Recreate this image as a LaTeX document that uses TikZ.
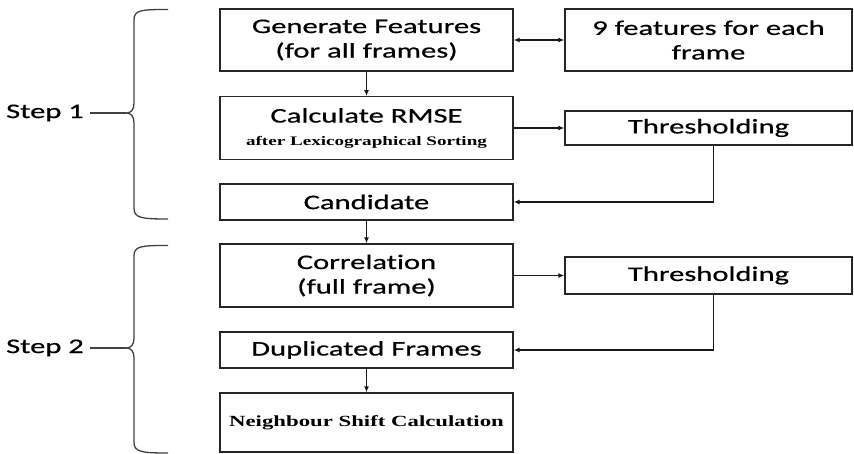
\documentclass[tikz,border=0pt]{standalone}
\usepackage{fontspec}
\setmainfont{Carlito}
\newfontfamily\calib{Carlito}[FakeStretch=1.47, FakeBold=0.6, Ligatures={NoCommon}]
\newfontfamily\tnrb{Liberation Serif Bold}[FakeStretch=1.47]
\usetikzlibrary{arrows.meta}
\begin{document}
\begin{tikzpicture}[x=1pt,y=-1pt,
  box/.style={draw=black!85, line width=1.4pt, minimum width=293pt, inner sep=0pt, align=center,
    font=\calib\fontsize{20.8}{24.5}\selectfont},
  rbox/.style={box, minimum width=287pt},
  conn/.style={draw=black!90, line width=1.1pt, -{Latex[length=6pt,width=5pt]}},
  brace/.style={draw=black!75, line width=1.3pt},
  steplbl/.style={font=\calib\fontsize{20.8}{24.5}\selectfont, inner sep=0pt}]
\useasboundingbox (0,0) rectangle (854,454);
% left column
\node[box, minimum height=62pt] (gen) at (366.5,40) {Generate Features\\(for all frames)};
\node[box, minimum height=62.5pt] (rmse) at (366.5,128) {Calculate RMSE\\[-2pt]{\tnrb\fontsize{13}{16}\selectfont after Lexicographical Sorting}};
\node[box, minimum height=36pt] (cand) at (366.5,202) {Candidate};
\node[box, minimum height=63pt] (corr) at (366.5,275.5) {Correlat\kern0pt ion\\(full frame)};
\node[box, minimum height=36pt] (dup) at (366.5,350) {Duplicated Frames};
\node[box, minimum height=59pt] (nsc) at (366.5,422.5) {\tnrb\fontsize{15.5}{18}\selectfont Neighbour Shift Calculation};
% right column
\node[rbox, minimum height=62pt] (feat) at (708.5,40) {9 features for each\\frame};
\node[rbox, minimum height=34pt] (th1) at (708.5,128) {Thresholding};
\node[rbox, minimum height=37pt] (th2) at (708.5,275.5) {Thresholding};
% connectors
\draw[conn, {Latex[length=6pt,width=5pt]}-{Latex[length=6pt,width=5pt]}] (gen.east) -- (feat.west);
\draw[conn] (gen.south) -- (rmse.north);
\draw[conn] (rmse.east) -- (th1.west);
\draw[conn] ([xshift=5pt]th1.south) |- (cand.east);
\draw[conn] (cand.south) -- (corr.north);
\draw[conn] (corr.east) -- (th2.west);
\draw[conn] ([xshift=5pt]th2.south) |- (dup.east);
\draw[conn] (dup.south) -- (nsc.north);
% step labels and braces
\node[steplbl] (s1) at (45,113) {Step 1};
\node[steplbl] (s2) at (45,348) {Step 2};
\coordinate (t1) at (126,113);
\coordinate (t2) at (126,348);
\draw[brace] (s1.east) ++(6pt,0) -- (t1);
\draw[brace] (s2.east) ++(6pt,0) -- (t2);
\draw[brace] (168,9.5) .. controls (141,9.5) and (134,10) .. (134,20) -- (134,103)
  .. controls (134,110) and (131,113) .. (t1) .. controls (131,113) and (134,116) .. (134,123)
  -- (134,208) .. controls (134,218) and (141,219) .. (168,219);
\draw[brace] (168,245.5) .. controls (141,245.5) and (134,246) .. (134,256) -- (134,338)
  .. controls (134,345) and (131,348) .. (t2) .. controls (131,348) and (134,351) .. (134,358)
  -- (134,442) .. controls (134,452) and (141,453) .. (168,453);
\end{tikzpicture}
\end{document}
